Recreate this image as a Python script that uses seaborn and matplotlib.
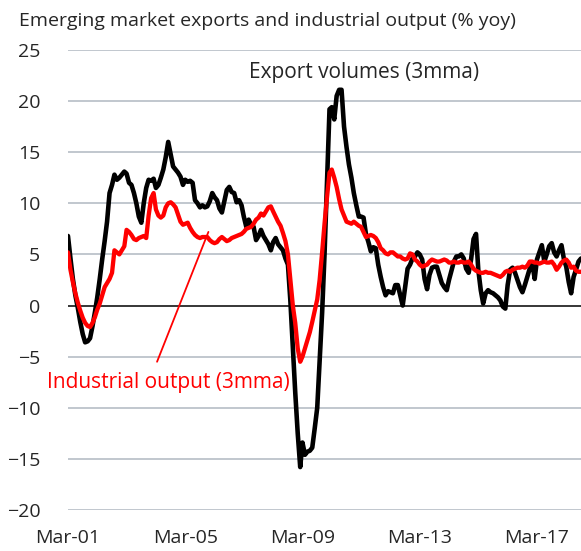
import pandas as pd
import seaborn as sns
import matplotlib.pyplot as plt

# monthly data, Mar-01 onwards (% yoy, 3mma)
exports = [
    6.8, 4.6, 2.6, 1.0, -0.2, -1.6, -2.8, -3.6, -3.5, -3.2, -2.0, -0.6,
    0.8, 2.6, 4.5, 6.3, 8.2, 11.0, 11.8, 12.8, 12.3, 12.5, 12.8, 13.1,
    12.9, 12.0, 11.8, 11.0, 10.0, 8.7, 8.1, 10.0, 11.5, 12.3, 12.2, 12.4,
    11.5, 11.8, 12.5, 13.3, 14.5, 16.0, 14.8, 13.6, 13.3, 13.0, 12.6, 11.8,
    12.3, 12.1, 12.2, 12.0, 10.3, 10.0, 9.6, 9.8, 9.6, 9.7, 10.2, 11.0,
    10.6, 10.3, 9.5, 9.1, 10.2, 11.3, 11.6, 11.1, 11.0, 10.1, 10.3, 9.8,
    8.7, 7.7, 8.4, 7.9, 7.7, 6.4, 6.8, 7.4, 6.8, 6.4, 6.0, 5.4,
    6.2, 6.6, 6.0, 5.7, 5.4, 4.6, 4.0, 0.5, -4.0, -8.5, -12.5, -15.8,
    -13.4, -14.6, -14.3, -14.2, -13.9, -12.0, -10.0, -5.5, -0.7, 5.0, 12.0, 19.2,
    19.4, 18.2, 20.5, 21.1, 21.1, 17.5, 15.5, 13.8, 12.5, 11.0, 9.8, 8.7,
    8.7, 8.6, 7.0, 6.2, 5.3, 5.7, 5.6, 4.0, 2.8, 1.8, 1.0, 1.4,
    1.3, 1.2, 2.0, 2.0, 1.0, 0.0, 1.8, 3.6, 4.0, 4.6, 4.8, 5.2,
    5.0, 4.5, 2.6, 1.6, 3.0, 3.7, 3.8, 3.8, 3.0, 2.2, 1.8, 1.5,
    2.5, 3.4, 4.3, 4.8, 4.8, 5.0, 4.6, 3.6, 3.2, 4.5, 6.5, 7.0,
    3.5, 1.5, 0.2, 1.2, 1.5, 1.3, 1.2, 1.0, 0.8, 0.5, -0.1, -0.3,
    2.0, 3.5, 3.7, 3.2, 2.5, 1.8, 1.3, 2.0, 2.8, 3.6, 4.2, 2.6,
    4.5, 5.2, 5.9, 4.3, 5.0, 5.8, 6.1, 5.2, 4.8, 5.4, 5.9, 4.5,
    3.8, 2.3, 1.2, 2.8, 3.5, 4.3, 4.6,
]

output = [
    5.2, 3.5, 2.3, 1.2, 0.3, -0.5, -1.2, -1.7, -2.0, -2.1, -1.7, -1.1,
    -0.4, 0.2, 1.0, 1.8, 2.2, 2.6, 3.2, 5.4, 5.2, 5.0, 5.4, 5.8,
    7.4, 7.2, 6.9, 6.5, 6.4, 6.6, 6.7, 6.8, 6.6, 8.8, 10.5, 11.0,
    9.4, 8.8, 8.6, 8.8, 9.6, 10.0, 10.1, 9.9, 9.6, 8.9, 8.2, 7.9,
    8.0, 8.1, 7.6, 7.2, 6.9, 6.7, 6.6, 6.7, 6.7, 6.7, 6.4, 6.2,
    6.1, 6.2, 6.5, 6.7, 6.5, 6.3, 6.4, 6.6, 6.7, 6.8, 6.9, 7.0,
    7.2, 7.5, 7.6, 7.7, 8.0, 8.4, 8.6, 9.0, 8.8, 9.2, 9.6, 9.7,
    9.2, 8.7, 8.2, 7.8, 7.1, 6.3, 5.0, 2.5, 0.0, -1.7, -4.2, -5.5,
    -5.0, -4.2, -3.4, -2.6, -1.6, -0.5, 0.6, 2.5, 5.2, 8.0, 10.6, 13.0,
    13.3, 12.5, 11.6, 10.4, 9.4, 8.8, 8.2, 8.1, 8.0, 8.2, 8.0, 7.8,
    7.7, 7.2, 6.7, 6.8, 6.9, 6.8, 6.6, 6.2, 5.6, 5.4, 5.1, 5.0,
    5.2, 5.2, 5.0, 4.8, 4.8, 4.6, 4.5, 4.6, 5.1, 5.0, 4.5, 4.3,
    4.0, 3.8, 3.9, 4.0, 4.3, 4.5, 4.4, 4.3, 4.3, 4.4, 4.5, 4.4,
    4.2, 4.2, 4.3, 4.2, 4.2, 4.3, 4.2, 4.2, 4.3, 4.0, 3.6, 3.4,
    3.3, 3.2, 3.2, 3.3, 3.2, 3.2, 3.1, 3.0, 2.9, 2.8, 3.0, 3.3,
    3.4, 3.3, 3.5, 3.6, 3.7, 3.7, 3.8, 3.7, 3.9, 4.3, 4.3, 4.2,
    4.2, 4.1, 4.2, 4.3, 4.2, 4.2, 4.3, 4.0, 3.5, 3.8, 4.2, 4.4,
    4.5, 4.2, 3.7, 3.8, 3.4, 3.3, 3.3,
]

tick_labels = ['Mar-01', 'Mar-05', 'Mar-09', 'Mar-13', 'Mar-17']
yticks = [-20, -15, -10, -5, 0, 5, 10, 15, 20, 25]

dates = pd.date_range('2001-03-01', periods=len(exports), freq='MS')
df = pd.DataFrame({'date': dates, 'exports': exports, 'output': output})

sns.set_style('white')
plt.rcParams['font.family'] = ['Open Sans', 'DejaVu Sans']

fig = plt.figure(figsize=(5.81, 5.51), dpi=100)
ax = fig.add_axes([0.117, 0.0744, 0.883, 0.835])

for y in yticks:
    ax.axhline(y, color='black' if y == 0 else '#bcc3ca', lw=1.1 if y == 0 else 1.3, zorder=0)

sns.lineplot(data=df, x='date', y='exports', color='black', lw=3.3, ax=ax)
sns.lineplot(data=df, x='date', y='output', color='#ff0000', lw=3.1, ax=ax)

ax.set_xlim(dates[0], dates[-1])
ax.set_ylim(-20, 25)
ax.set_yticks(yticks)
ax.set_xticks([pd.Timestamp(f'20{l[-2:]}-03-01') for l in tick_labels])
ax.set_xticklabels(tick_labels)
ax.tick_params(axis='both', length=0, labelsize=14)
ax.tick_params(axis='x', pad=14)
ax.tick_params(axis='y', pad=20)
ax.set_xlabel('')
ax.set_ylabel('')
sns.despine(ax=ax, left=True, bottom=True)

fig.text(0.033, 0.962, 'Emerging market exports and industrial output (% yoy)',
         fontsize=14, va='center', ha='left')

ax.text(dates[74], 22.8, 'Export volumes (3mma)', fontsize=15, va='center', ha='left')
ax.text(pd.Timestamp('2000-06-15'), -7.5, 'Industrial output (3mma)', color='#ff0000',
        fontsize=15, va='center', ha='left', clip_on=False)
ax.annotate('', xy=(pd.Timestamp('2005-12-15'), 7.2),
            xytext=(pd.Timestamp('2004-03-15'), -5.5),
            arrowprops=dict(arrowstyle='-', color='#ff0000', lw=1.3,
                            shrinkA=0, shrinkB=0))

fig.savefig('out.png', dpi=100)
